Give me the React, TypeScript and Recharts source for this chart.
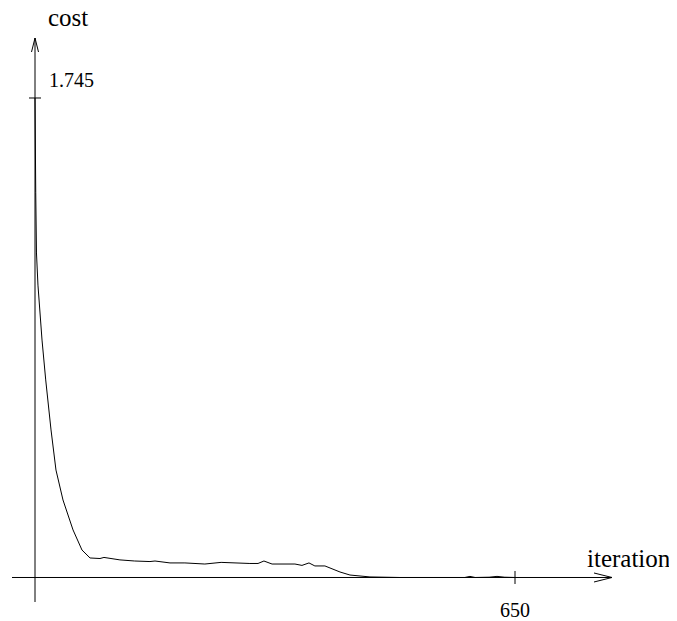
import React from "react";
import {
  LineChart,
  Line,
  XAxis,
  YAxis,
  ReferenceLine,
  ReferenceDot,
} from "recharts";

// cost per iteration
const iterations = [
  0, 1, 2, 4, 9.5, 14.5, 21.7, 28.4, 37.9, 51.5, 63.6, 74.5, 88, 93.4, 115,
  135, 155.7, 162.5, 182.8, 203, 230, 252, 291, 302, 310, 321, 352, 361.5,
  371, 379, 392.6, 413, 426.5, 453.6, 494, 540, 582, 589, 596, 615, 625.6,
  636, 650,
];
const costs = [
  1.745, 1.4, 1.181, 1.064, 0.864, 0.719, 0.537, 0.391, 0.282, 0.173, 0.1,
  0.071, 0.069, 0.073, 0.064, 0.06, 0.058, 0.06, 0.053, 0.053, 0.049, 0.055,
  0.051, 0.051, 0.06, 0.049, 0.049, 0.044, 0.053, 0.042, 0.042, 0.02, 0.009,
  0.002, 0, 0, 0, 0.004, 0, 0.001, 0.004, 0.001, 0,
];
const xTicks = [650];
const yTicks = [1.745];
const xName = "iteration";
const yName = "cost";

const data = iterations.map((it, i) => ({ iteration: it, cost: costs[i] }));

const textStyle = { fontFamily: "'Liberation Serif', serif", fill: "#000" };

const XArrow = (p: any) => {
  const { x1, y1, x2 } = p;
  return (
    <g>
      <line x1={x1} y1={y1} x2={x2} y2={y1} stroke="#000" strokeWidth={1} />
      <path
        d={`M${x2 - 18},${y1 - 4.5} L${x2},${y1} L${x2 - 18},${y1 + 4.5}`}
        fill="none"
        stroke="#000"
        strokeWidth={1}
      />
      <text x={x2 - 25} y={y1 - 10} fontSize={25} style={textStyle}>
        {xName}
      </text>
    </g>
  );
};

const YArrow = (p: any) => {
  const { x1, y1, y2 } = p;
  const top = Math.min(y1, y2);
  const bottom = Math.max(y1, y2);
  return (
    <g>
      <line x1={x1} y1={top} x2={x1} y2={bottom} stroke="#000" strokeWidth={1} />
      <path
        d={`M${x1 - 3.5},${top + 14} L${x1},${top} L${x1 + 3.5},${top + 14}`}
        fill="none"
        stroke="#000"
        strokeWidth={1}
      />
      <text x={x1 + 13} y={top - 12} fontSize={25} style={textStyle}>
        {yName}
      </text>
    </g>
  );
};

const XTick = (label: string) => (p: any) => (
  <g>
    <line x1={p.cx} y1={p.cy - 6.5} x2={p.cx} y2={p.cy + 6.5} stroke="#000" />
    <text
      x={p.cx}
      y={p.cy + 40}
      textAnchor="middle"
      fontSize={20}
      style={textStyle}
    >
      {label}
    </text>
  </g>
);

const YTick = (label: string) => (p: any) => (
  <g>
    <line x1={p.cx - 6} y1={p.cy} x2={p.cx + 6} y2={p.cy} stroke="#000" />
    <text x={p.cx + 14} y={p.cy - 11} fontSize={20} style={textStyle}>
      {label}
    </text>
  </g>
);

export default function App() {
  return (
    <div style={{ margin: "-8px 0 0 -8px", width: 677, height: 621 }}>
      <LineChart
        width={677}
        height={621}
        data={data}
        margin={{ top: 38, right: 65, bottom: 19, left: 12 }}
        style={{ overflow: "visible" }}
      >
        <XAxis
          dataKey="iteration"
          type="number"
          domain={[-31.15, 781.35]}
          allowDataOverflow
          hide
        />
        <YAxis type="number" domain={[-0.0892, 1.9633]} allowDataOverflow hide />
        <ReferenceLine y={0} shape={XArrow} />
        <ReferenceLine x={0} shape={YArrow} />
        {xTicks.map((t) => (
          <ReferenceDot key={`x-${t}`} x={t} y={0} shape={XTick(String(t))} />
        ))}
        {yTicks.map((t) => (
          <ReferenceDot key={`y-${t}`} x={0} y={t} shape={YTick(String(t))} />
        ))}
        <Line
          dataKey="cost"
          type="linear"
          stroke="#000"
          strokeWidth={1}
          dot={false}
          isAnimationActive={false}
        />
      </LineChart>
    </div>
  );
}
